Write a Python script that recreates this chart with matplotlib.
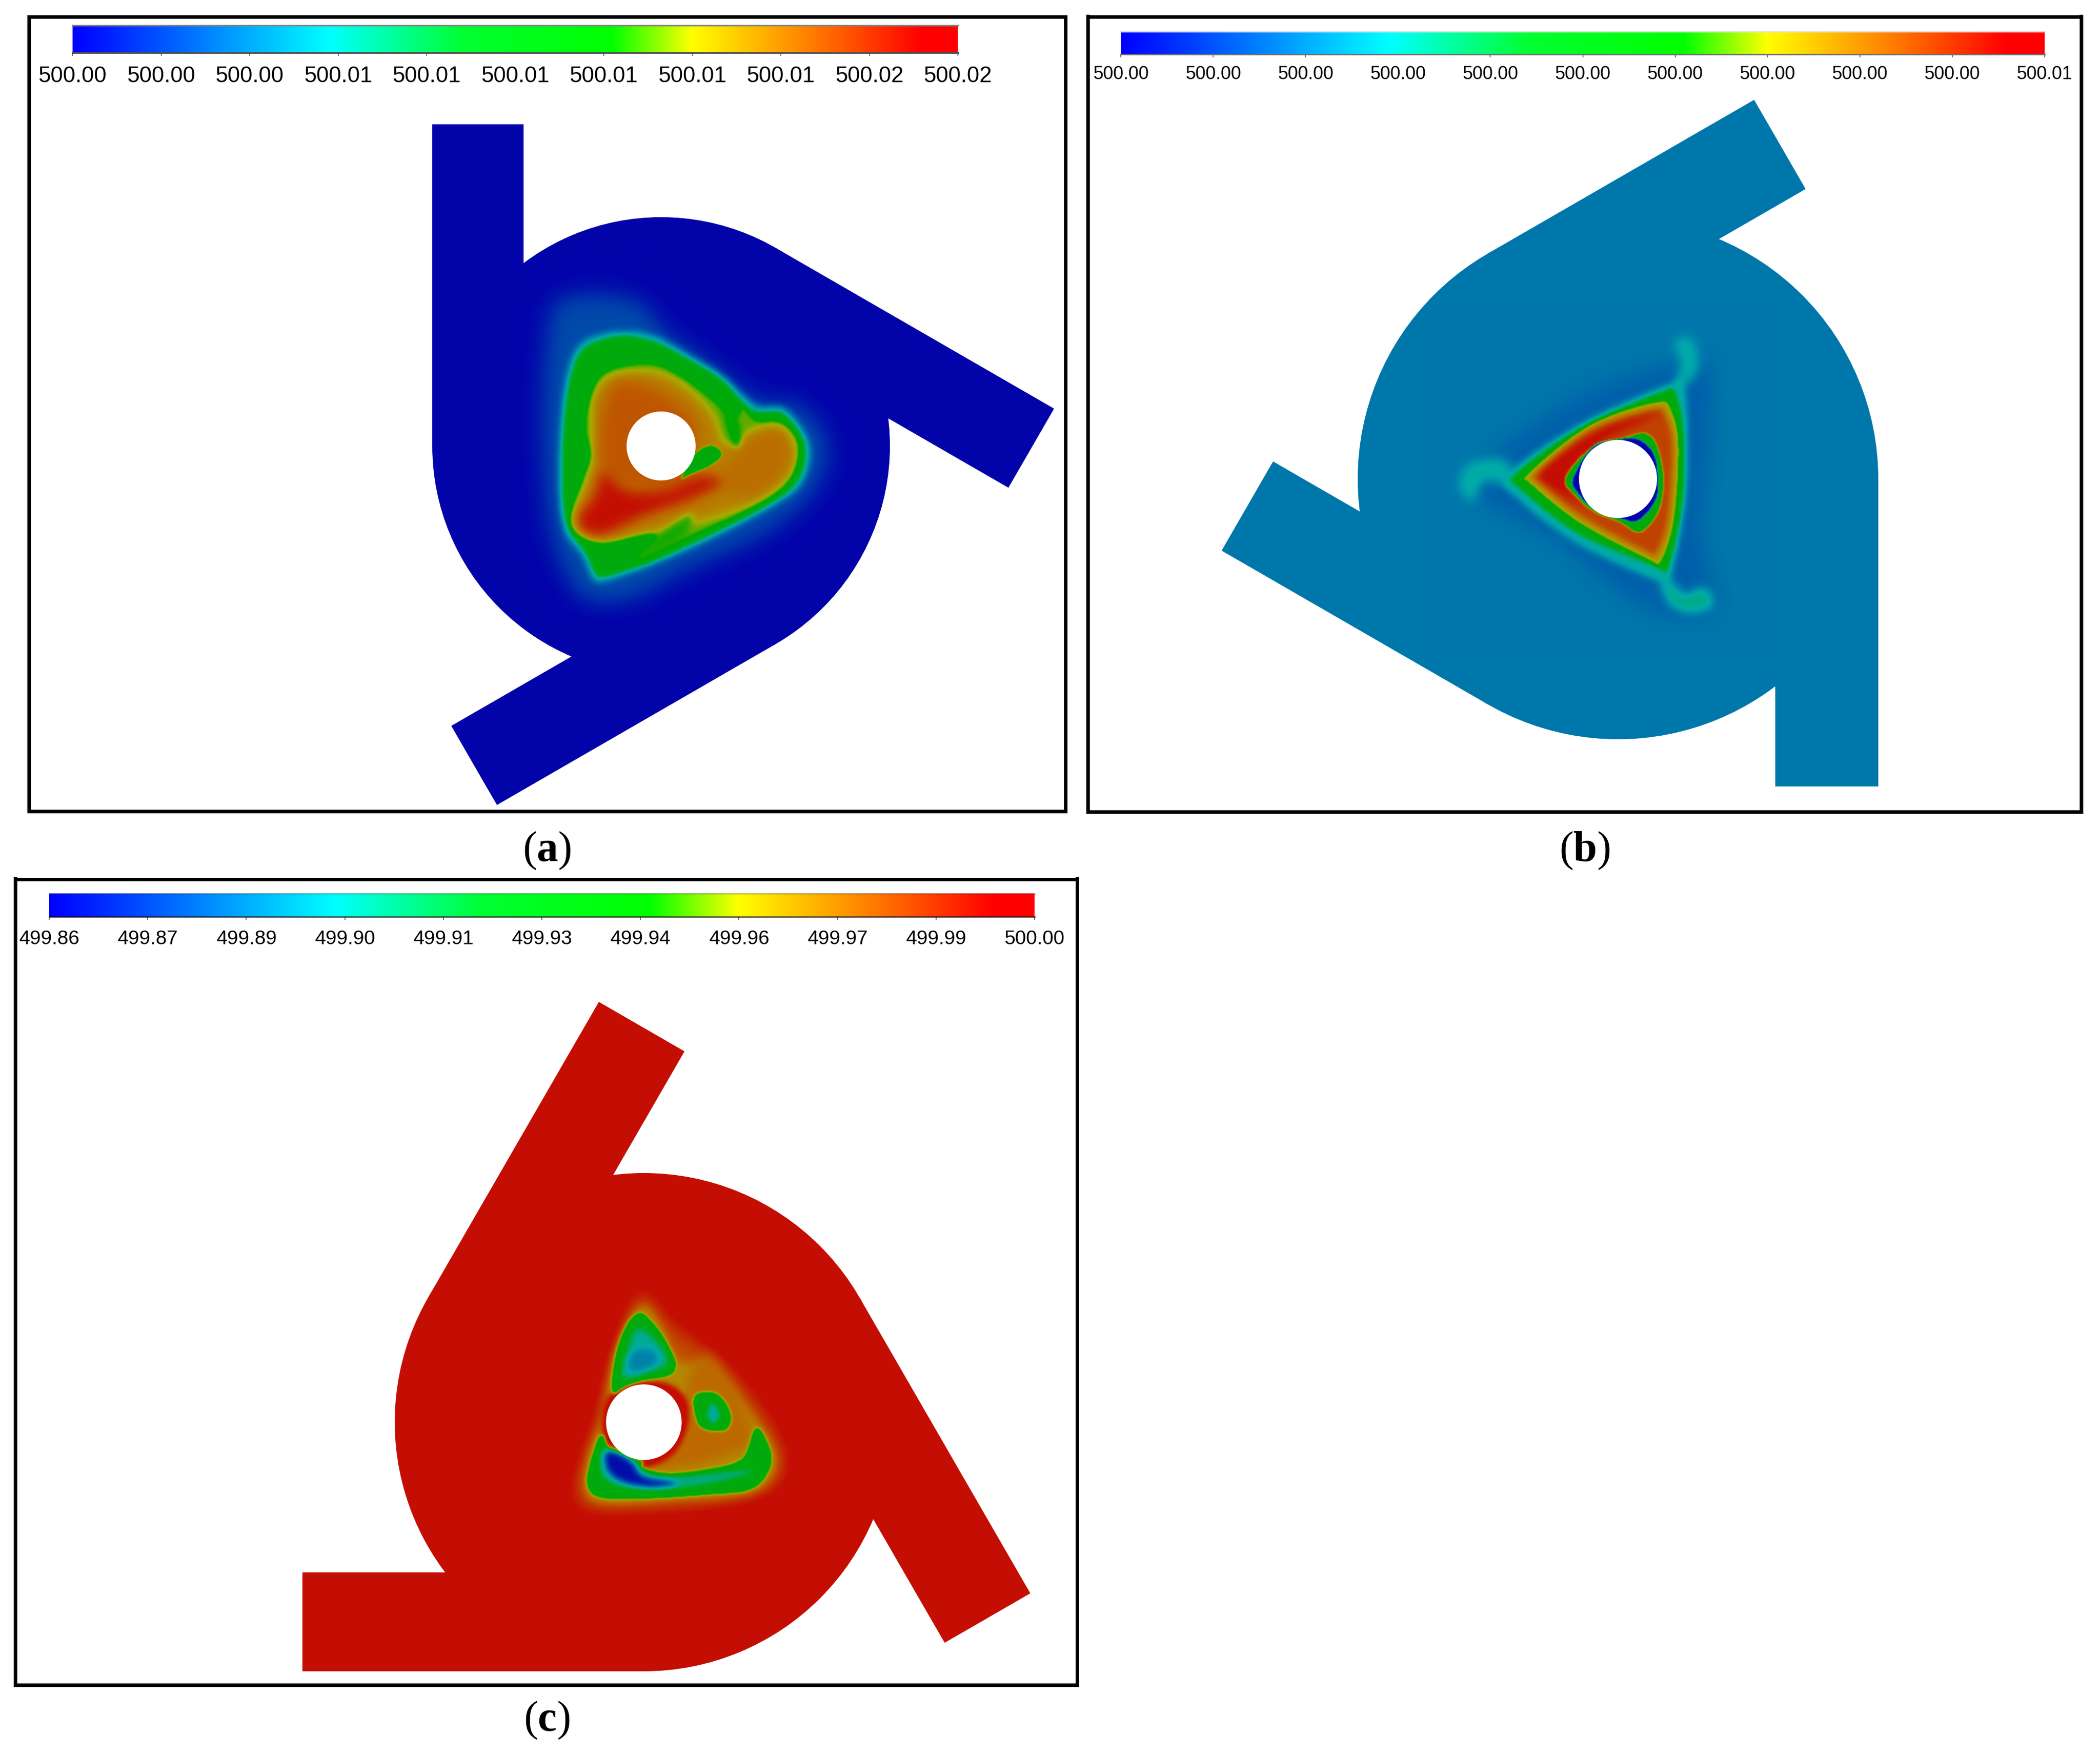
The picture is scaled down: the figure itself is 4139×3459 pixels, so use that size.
from __future__ import annotations

import matplotlib
matplotlib.use("Agg")
import matplotlib.pyplot as plt
import numpy as np
from matplotlib.colors import LinearSegmentedColormap
from matplotlib.patches import Circle, Polygon
from matplotlib.path import Path

WIDTH, HEIGHT = 4139, 3459
DPI = 300

plt.rcParams["mathtext.fontset"] = "custom"
plt.rcParams["mathtext.rm"] = "Liberation Serif"
plt.rcParams["mathtext.bf"] = "Liberation Serif:bold"

# colour scale, position and rgb, bright for the legend bar and dim for the field
SCALE_POS = [0.0, 0.05, 0.29, 0.44, 0.61, 0.70, 0.83, 0.96, 1.0]
BAR_RGB = [(0, 0, 255), (0, 40, 255), (0, 255, 255), (0, 255, 50), (0, 255, 0),
           (255, 255, 0), (255, 130, 0), (255, 0, 0), (255, 0, 0)]
FIELD_RGB = [(3, 3, 170), (0, 28, 170), (0, 170, 170), (0, 170, 20), (0, 170, 0),
             (170, 170, 0), (190, 100, 0), (196, 14, 3), (196, 14, 3)]

TICKS_A = ["500.00", "500.00", "500.00", "500.01", "500.01", "500.01", "500.01", "500.01", "500.01", "500.02", "500.02"]
TICKS_B = ["500.00"] * 10 + ["500.01"]
TICKS_C = ["499.86", "499.87", "499.89", "499.90", "499.91", "499.93", "499.94", "499.96", "499.97", "499.99", "500.00"]

# outlines below are in zoomed-crop pixels, paired with a level and a softness
A_HAZE = [(220, 200), (420, 170), (600, 210), (700, 330), (900, 470), (1100, 620), (1300, 650), (1420, 820), (1360, 1020), (1150, 1200), (800, 1360), (560, 1480), (350, 1490), (230, 1330), (170, 1100), (150, 700), (170, 350)]
A_RIM = [(235, 700), (270, 480), (340, 370), (500, 330), (650, 350), (800, 430), (950, 520), (1060, 620), (1120, 655), (1220, 660), (1310, 760), (1340, 860), (1300, 990), (1180, 1080), (900, 1225), (620, 1345), (420, 1410), (370, 1390), (330, 1300), (250, 1190), (225, 1000)]
A_GREEN = [(255, 700), (290, 500), (350, 400), (500, 355), (650, 380), (800, 455), (940, 540), (1040, 640), (1100, 680), (1210, 685), (1290, 770), (1315, 860), (1280, 975), (1170, 1065), (900, 1205), (620, 1325), (430, 1385), (390, 1370), (345, 1280), (270, 1170), (245, 1000)]
A_OLIVE = [(430, 510), (620, 470), (760, 520), (900, 620), (1000, 700), (1040, 660), (1100, 715), (1200, 720), (1270, 780), (1285, 860), (1240, 980), (1100, 1080), (800, 1220), (560, 1320), (660, 1220), (600, 1200), (420, 1240), (300, 1190), (285, 1110), (340, 950), (370, 860), (345, 760), (360, 640)]
A_ORANGE = [(440, 540), (620, 510), (760, 560), (900, 690), (960, 820), (1100, 760), (1210, 750), (1265, 860), (1220, 970), (1050, 1080), (830, 1150), (660, 1190), (430, 1225), (310, 1170), (310, 1090), (380, 900), (390, 750), (380, 640)]
A_ORANGE_EAST = [(980, 900), (1100, 780), (1210, 770), (1250, 850), (1200, 960), (1080, 1040), (950, 1000)]
A_RED_WEST = [(470, 560), (600, 560), (760, 640), (840, 740), (830, 850), (800, 970), (600, 1000), (430, 940), (400, 750)]
A_RED = [(310, 1130), (380, 1040), (420, 930), (520, 1010), (700, 1010), (860, 950), (950, 985), (800, 1060), (600, 1130), (420, 1210), (330, 1190)]
A_WEDGE_N = [(935, 565), (990, 640), (1030, 790), (1000, 830), (960, 700)]
A_WEDGE_S = [(560, 1320), (690, 1190), (810, 1115), (800, 1190), (700, 1270)]
A_EYE = [(830, 860), (900, 825), (945, 860), (900, 905), (800, 950), (770, 960)]
LAYERS_A = [(A_HAZE, 0.13, 22), (A_RIM, 0.27, 6), (A_GREEN, 0.5, 5), (A_OLIVE, 0.66, 4), (A_ORANGE, 0.78, 9),
            (A_ORANGE_EAST, 0.81, 12), (A_RED_WEST, 0.85, 13), (A_RED, 0.96, 13), (A_WEDGE_N, 0.58, 6), (A_WEDGE_S, 0.62, 7), (A_EYE, 0.5, 2)]

B_HAZE = [(250, 720), (700, 400), (1150, 250), (1290, 300), (1250, 1000), (1300, 1350), (1000, 1350), (600, 1050), (250, 850)]
B_HOOK_N = [(1120, 170), (1190, 150), (1230, 250), (1190, 340), (1130, 340), (1150, 260)]
B_HOOK_W = [(170, 800), (220, 700), (380, 690), (400, 790), (280, 780), (230, 870)]
B_HOOK_S = [(1060, 1200), (1120, 1240), (1170, 1280), (1250, 1250), (1290, 1330), (1180, 1360), (1090, 1310)]
B_RIM = [(385, 750), (700, 530), (1100, 350), (1165, 345), (1175, 800), (1105, 1205), (1060, 1225), (700, 1060), (420, 850)]
B_GREEN = [(420, 750), (700, 550), (1060, 390), (1125, 400), (1160, 600), (1150, 900), (1085, 1180), (1050, 1160), (700, 1010), (440, 810)]
B_OLIVE = [(470, 750), (750, 530), (1040, 430), (1105, 460), (1140, 620), (1120, 950), (1060, 1140), (1000, 1125), (700, 965), (480, 790)]
B_RED = [(505, 750), (750, 555), (1030, 460), (1080, 485), (1115, 620), (1095, 950), (1040, 1105), (1000, 1095), (710, 940), (515, 780)]
B_RED_WEST = [(530, 750), (700, 610), (860, 530), (1060, 480), (800, 600), (640, 770), (720, 890), (560, 790)]
B_INNER = [(640, 770), (750, 640), (900, 590), (990, 570), (1040, 620), (1070, 750), (1060, 880), (1020, 960), (960, 1005), (880, 960), (770, 915), (690, 850)]
B_BLUE = [(672, 770), (760, 630), (870, 597), (960, 595), (1030, 660), (1048, 780), (1035, 870), (960, 955), (880, 945), (770, 905), (700, 840)]
LAYERS_B = [(B_HAZE, 0.165, 22), (B_HOOK_N, 0.3, 10), (B_HOOK_W, 0.3, 10), (B_HOOK_S, 0.33, 9), (B_RIM, 0.3, 6), (B_GREEN, 0.5, 4),
            (B_OLIVE, 0.72, 3), (B_RED, 0.88, 6), (B_RED_WEST, 0.98, 8), (B_INNER, 0.5, 2), (B_BLUE, 0.0, 1.5)]

C_HAZE = [(550, 120), (700, 290), (900, 460), (1110, 680), (1290, 1000), (1260, 1220), (1000, 1320), (600, 1360), (290, 1360), (210, 1260), (260, 1050), (330, 820), (410, 500)]
C_OLIVE = [(555, 215), (660, 330), (745, 520), (900, 550), (1110, 800), (1240, 1020), (1230, 1160), (1100, 1265), (700, 1300), (380, 1315), (275, 1250), (290, 1050), (365, 820), (425, 480)]
C_ORANGE = [(800, 620), (900, 480), (1050, 700), (1130, 950), (1050, 1030), (800, 1110), (580, 1110), (750, 1000), (790, 800)]
C_NEAR = [(480, 650), (680, 640), (790, 730), (800, 880), (730, 1040), (590, 1120), (480, 1090), (370, 1000), (370, 760)]
C_TOP = [(550, 250), (640, 335), (715, 470), (735, 550), (700, 600), (560, 630), (480, 660), (410, 695), (425, 500), (475, 335)]
C_TOP_TEAL = [(540, 330), (650, 420), (700, 535), (600, 580), (460, 620), (485, 470)]
C_TOP_BLUE = [(510, 470), (625, 460), (630, 545), (500, 580)]
C_LOW = [(350, 935), (400, 1020), (520, 1070), (570, 1085), (560, 1120), (700, 1155), (900, 1130), (1080, 1070), (1150, 895), (1220, 1010), (1220, 1125), (1125, 1240), (900, 1270), (600, 1292), (375, 1292), (292, 1245), (285, 1140)]
C_LOW_TEAL = [(370, 1010), (520, 1080), (560, 1130), (700, 1170), (1130, 1130), (1000, 1190), (700, 1240), (450, 1225), (350, 1150)]
C_LOW_BLUE = [(385, 1030), (500, 1080), (570, 1170), (750, 1205), (600, 1225), (460, 1195), (385, 1130)]
C_EYE = [(835, 715), (950, 705), (1020, 820), (995, 905), (895, 905), (845, 855)]
C_EYE_TEAL = [(925, 755), (965, 820), (930, 875), (895, 820)]
LAYERS_C = [(C_HAZE, 0.86, 20), (C_OLIVE, 0.76, 9), (C_ORANGE, 0.82, 11), (C_NEAR, 0.97, 5), (C_TOP, 0.5, 3), (C_TOP_TEAL, 0.31, 7),
            (C_TOP_BLUE, 0.22, 7), (C_LOW, 0.5, 3), (C_LOW_TEAL, 0.33, 5), (C_LOW_BLUE, 0.02, 6), (C_EYE, 0.5, 3), (C_EYE_TEAL, 0.31, 4)]


def smooth(points, samples=8):
    # closed Catmull-Rom so the curve goes through the traced points
    pts = np.asarray(points, dtype=float)
    t = np.linspace(0, 1, samples, endpoint=False)[:, None]
    p0, p1, p2, p3 = np.roll(pts, 1, axis=0), pts, np.roll(pts, -1, axis=0), np.roll(pts, -2, axis=0)
    out = []
    for a, b, c, d in zip(p0, p1, p2, p3):
        out.append(0.5 * (2 * b + (c - a) * t + (2 * a - 5 * b + 4 * c - d) * t ** 2 + (3 * b - a - 3 * c + d) * t ** 3))
    return np.vstack(out)


def blur(mask, sigma):
    fy = np.fft.fftfreq(mask.shape[0])[:, None]
    fx = np.fft.rfftfreq(mask.shape[1])[None, :]
    kernel = np.exp(-2 * (np.pi * sigma) ** 2 * (fx ** 2 + fy ** 2))
    return np.clip(np.fft.irfft2(np.fft.rfft2(mask) * kernel, s=mask.shape), 0, 1)


def build_field(layers, crop, base, step=2):
    x0, y0, scale_x, scale_y, w, h = crop
    xs = np.arange(x0, x0 + w, step) + step / 2
    ys = np.arange(y0, y0 + h, step) + step / 2
    gx, gy = np.meshgrid(xs, ys)
    grid = np.column_stack([gx.ravel(), gy.ravel()])
    field = np.full(gx.shape, float(base))
    for outline, level, sigma in layers:
        pts = smooth(outline) / [scale_x, scale_y] + [x0, y0]
        mask = Path(pts, closed=False).contains_points(grid).reshape(gx.shape).astype(float)
        weight = blur(mask, sigma / step)
        field = field * (1 - weight) + level * weight
    return field


def make_cmap(name, rgb):
    return LinearSegmentedColormap.from_list(name, [(p, tuple(c / 255 for c in col)) for p, col in zip(SCALE_POS, rgb)], N=512)


BAR_CMAP = make_cmap("bar", BAR_RGB)
FIELD_CMAP = make_cmap("field", FIELD_RGB)


def px_axes(fig, x0, y0, x1, y1):
    return fig.add_axes([x0 / WIDTH, 1 - y1 / HEIGHT, (x1 - x0) / WIDTH, (y1 - y0) / HEIGHT])


def draw_bar(fig, box, labels, fontpx, top_edge, bottom_edge, label_y, hidden=None):
    x0, y0, x1, y1 = box
    ax = px_axes(fig, x0, y0, x1, y1)
    ax.imshow(np.linspace(0, 1, 512)[None, :], cmap=BAR_CMAP, aspect="auto", extent=(0, 1, 0, 1), vmin=0, vmax=1)
    ax.set_xticks(np.linspace(0, 1, len(labels)))
    ax.set_xticklabels([])
    ax.set_yticks([])
    ax.tick_params(axis="x", length=6 * 72 / DPI, width=2 * 72 / DPI, color="#777777")
    for spine in ("left", "right"):
        ax.spines[spine].set_visible(False)
    ax.spines["top"].set_color(top_edge)
    ax.spines["bottom"].set_color(bottom_edge)
    ax.spines["top"].set_linewidth(3 * 72 / DPI)
    ax.spines["bottom"].set_linewidth(3 * 72 / DPI)
    if hidden is not None:
        ax.xaxis.get_major_ticks()[hidden].tick1line.set_visible(False)
    for pos, label in zip(np.linspace(x0, x1, len(labels)), labels):
        fig.text(pos / WIDTH, 1 - label_y / HEIGHT, label, ha="center", va="center", color="black",
                 family=["Liberation Sans", "DejaVu Sans"], fontsize=fontpx * 72 / DPI)


def draw_panel(fig, frame, centre, radius, hole, angle0, tube_len, tube_w, layers, crop, base):
    x0, y0, x1, y1 = frame
    ax = px_axes(fig, x0, y0, x1, y1)
    ax.set_xticks([])
    ax.set_yticks([])
    for spine in ax.spines.values():
        spine.set_linewidth(7 * 72 / DPI)
    ground = FIELD_CMAP(float(base))
    ax.add_patch(Circle(centre, radius, fc=ground, ec="none"))
    for turn in (0, 120, 240):
        a = np.radians(angle0 + turn)
        rad = np.array([np.cos(a), np.sin(a)])
        along = np.array([-rad[1], rad[0]])
        start = np.array(centre) + radius * rad
        corners = [start, start + tube_len * along, start + tube_len * along - tube_w * rad, start - tube_w * rad]
        ax.add_patch(Polygon(corners, closed=True, fc=ground, ec="none"))
    field = build_field(layers, crop, base)
    cx0, cy0, _, _, w, h = crop
    img = ax.imshow(field, cmap=FIELD_CMAP, vmin=0, vmax=1, extent=(cx0, cx0 + w, cy0 + h, cy0),
                    interpolation="bilinear", aspect="auto", zorder=2)
    img.set_clip_path(Circle(centre, radius - 1, transform=ax.transData))
    ax.add_patch(Circle(centre, hole, fc="white", ec="none", zorder=3))
    ax.set_xlim(x0, x1)
    ax.set_ylim(y1, y0)


def caption(fig, x, y, letter):
    fig.text(x / WIDTH, 1 - y / HEIGHT, rf"($\mathbf{{{letter}}}$)", ha="center", va="center",
             family="Liberation Serif", fontsize=84 * 72 / DPI, color="black")


def main():
    fig = plt.figure(figsize=(WIDTH / DPI, HEIGHT / DPI), dpi=DPI, facecolor="white")

    draw_panel(fig, (57, 32.5, 2100, 1598.5), (1303, 879), 451, 68, 180, 634, 180, LAYERS_A,
               (1000, 500, 2.24, 2.178, 700, 720), 0.0)
    draw_panel(fig, (2144, 32.5, 4102, 1600), (3189, 944), 513, 77, 0, 606, 203, LAYERS_B,
               (2800, 600, 2.24, 2.24, 700, 700), 0.205)
    draw_panel(fig, (30, 1732.5, 2123, 3320.5), (1269, 2803), 491, 74.5, 90, 673, 195, LAYERS_C,
               (1050, 2500, 2.613, 2.85, 600, 550), 1.0)

    draw_bar(fig, (143, 50, 1888, 104), TICKS_A, 44, "#888888", "#505050", 151, hidden=5)
    draw_bar(fig, (2209, 62, 4030, 107), TICKS_B, 36, "#e4e4e4", "#707070", 147, hidden=3)
    draw_bar(fig, (97, 1761, 2039, 1807), TICKS_C, 39, (0, 0, 0, 0.2), (0, 0, 0, 0.55), 1851)

    caption(fig, 1078, 1677, "a")
    caption(fig, 3123, 1677, "b")
    caption(fig, 1078, 3391, "c")

    fig.savefig("out.png", dpi=DPI, facecolor="white")
    plt.close(fig)


if __name__ == "__main__":
    main()
